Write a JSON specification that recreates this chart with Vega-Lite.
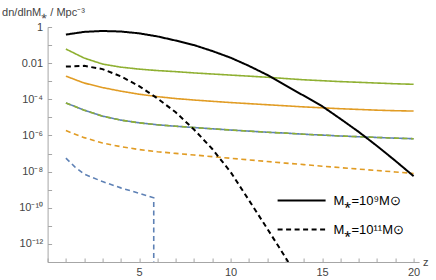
{
  "$schema": "https://vega.github.io/schema/vega-lite/v6.json",
  "width": 371.5,
  "height": 235,
  "autosize": {"type": "none"},
  "padding": {"left": 47.6, "top": 27, "right": 16.9, "bottom": 18},
  "background": "white",
  "config": {
    "view": {"stroke": null},
    "font": "Liberation Sans",
    "axis": {
      "domainColor": "#a6a6a6",
      "tickColor": "#a6a6a6",
      "labelColor": "#444444",
      "titleColor": "#444444",
      "labelFontSize": 11,
      "titleFontSize": 11,
      "titleFontWeight": "normal",
      "grid": false,
      "tickSize": -4
    }
  },
  "data": {"values": [
    {"model":"blue","mass":"M⁎=10⁹M⊙","z":1,"n":6.31e-5},
    {"model":"blue","mass":"M⁎=10⁹M⊙","z":2,"n":2.51e-5},
    {"model":"blue","mass":"M⁎=10⁹M⊙","z":3,"n":1.17e-5},
    {"model":"blue","mass":"M⁎=10⁹M⊙","z":4,"n":7.08e-6},
    {"model":"blue","mass":"M⁎=10⁹M⊙","z":5,"n":5.01e-6},
    {"model":"blue","mass":"M⁎=10⁹M⊙","z":6,"n":3.89e-6},
    {"model":"blue","mass":"M⁎=10⁹M⊙","z":7,"n":3.24e-6},
    {"model":"blue","mass":"M⁎=10⁹M⊙","z":8,"n":2.75e-6},
    {"model":"blue","mass":"M⁎=10⁹M⊙","z":9,"n":2.34e-6},
    {"model":"blue","mass":"M⁎=10⁹M⊙","z":10,"n":2.0e-6},
    {"model":"blue","mass":"M⁎=10⁹M⊙","z":11,"n":1.74e-6},
    {"model":"blue","mass":"M⁎=10⁹M⊙","z":12,"n":1.51e-6},
    {"model":"blue","mass":"M⁎=10⁹M⊙","z":13,"n":1.35e-6},
    {"model":"blue","mass":"M⁎=10⁹M⊙","z":14,"n":1.17e-6},
    {"model":"blue","mass":"M⁎=10⁹M⊙","z":15,"n":1.05e-6},
    {"model":"blue","mass":"M⁎=10⁹M⊙","z":16,"n":9.33e-7},
    {"model":"blue","mass":"M⁎=10⁹M⊙","z":17,"n":8.51e-7},
    {"model":"blue","mass":"M⁎=10⁹M⊙","z":18,"n":7.76e-7},
    {"model":"blue","mass":"M⁎=10⁹M⊙","z":19,"n":7.08e-7},
    {"model":"blue","mass":"M⁎=10⁹M⊙","z":20,"n":6.61e-7},
    {"model":"orange","mass":"M⁎=10⁹M⊙","z":1,"n":1.91e-3},
    {"model":"orange","mass":"M⁎=10⁹M⊙","z":2,"n":7.94e-4},
    {"model":"orange","mass":"M⁎=10⁹M⊙","z":3,"n":4.47e-4},
    {"model":"orange","mass":"M⁎=10⁹M⊙","z":4,"n":2.82e-4},
    {"model":"orange","mass":"M⁎=10⁹M⊙","z":5,"n":1.91e-4},
    {"model":"orange","mass":"M⁎=10⁹M⊙","z":6,"n":1.41e-4},
    {"model":"orange","mass":"M⁎=10⁹M⊙","z":7,"n":1.10e-4},
    {"model":"orange","mass":"M⁎=10⁹M⊙","z":8,"n":9.12e-5},
    {"model":"orange","mass":"M⁎=10⁹M⊙","z":9,"n":7.76e-5},
    {"model":"orange","mass":"M⁎=10⁹M⊙","z":10,"n":6.61e-5},
    {"model":"orange","mass":"M⁎=10⁹M⊙","z":11,"n":5.75e-5},
    {"model":"orange","mass":"M⁎=10⁹M⊙","z":12,"n":5.01e-5},
    {"model":"orange","mass":"M⁎=10⁹M⊙","z":13,"n":4.37e-5},
    {"model":"orange","mass":"M⁎=10⁹M⊙","z":14,"n":3.80e-5},
    {"model":"orange","mass":"M⁎=10⁹M⊙","z":15,"n":3.39e-5},
    {"model":"orange","mass":"M⁎=10⁹M⊙","z":16,"n":3.02e-5},
    {"model":"orange","mass":"M⁎=10⁹M⊙","z":17,"n":2.75e-5},
    {"model":"orange","mass":"M⁎=10⁹M⊙","z":18,"n":2.51e-5},
    {"model":"orange","mass":"M⁎=10⁹M⊙","z":19,"n":2.34e-5},
    {"model":"orange","mass":"M⁎=10⁹M⊙","z":20,"n":2.24e-5},
    {"model":"green","mass":"M⁎=10⁹M⊙","z":1,"n":0.0603},
    {"model":"green","mass":"M⁎=10⁹M⊙","z":2,"n":0.0191},
    {"model":"green","mass":"M⁎=10⁹M⊙","z":3,"n":0.00891},
    {"model":"green","mass":"M⁎=10⁹M⊙","z":4,"n":0.00603},
    {"model":"green","mass":"M⁎=10⁹M⊙","z":5,"n":0.00468},
    {"model":"green","mass":"M⁎=10⁹M⊙","z":6,"n":0.00389},
    {"model":"green","mass":"M⁎=10⁹M⊙","z":7,"n":0.00339},
    {"model":"green","mass":"M⁎=10⁹M⊙","z":8,"n":0.00288},
    {"model":"green","mass":"M⁎=10⁹M⊙","z":9,"n":0.00251},
    {"model":"green","mass":"M⁎=10⁹M⊙","z":10,"n":0.00219},
    {"model":"green","mass":"M⁎=10⁹M⊙","z":11,"n":0.00191},
    {"model":"green","mass":"M⁎=10⁹M⊙","z":12,"n":0.00166},
    {"model":"green","mass":"M⁎=10⁹M⊙","z":13,"n":0.00141},
    {"model":"green","mass":"M⁎=10⁹M⊙","z":14,"n":0.00120},
    {"model":"green","mass":"M⁎=10⁹M⊙","z":15,"n":0.00107},
    {"model":"green","mass":"M⁎=10⁹M⊙","z":16,"n":9.55e-4},
    {"model":"green","mass":"M⁎=10⁹M⊙","z":17,"n":8.71e-4},
    {"model":"green","mass":"M⁎=10⁹M⊙","z":18,"n":7.94e-4},
    {"model":"green","mass":"M⁎=10⁹M⊙","z":19,"n":7.24e-4},
    {"model":"green","mass":"M⁎=10⁹M⊙","z":20,"n":6.76e-4},
    {"model":"blue","mass":"M⁎=10¹¹M⊙","z":1,"n":5.62e-8},
    {"model":"blue","mass":"M⁎=10¹¹M⊙","z":1.5,"n":1.78e-8},
    {"model":"blue","mass":"M⁎=10¹¹M⊙","z":2,"n":7.24e-9},
    {"model":"blue","mass":"M⁎=10¹¹M⊙","z":3,"n":2.82e-9},
    {"model":"blue","mass":"M⁎=10¹¹M⊙","z":4,"n":1.26e-9},
    {"model":"blue","mass":"M⁎=10¹¹M⊙","z":5,"n":6.31e-10},
    {"model":"blue","mass":"M⁎=10¹¹M⊙","z":5.8,"n":3.55e-10},
    {"model":"blue","mass":"M⁎=10¹¹M⊙","z":5.8,"n":1e-13},
    {"model":"orange","mass":"M⁎=10¹¹M⊙","z":1,"n":1.86e-6},
    {"model":"orange","mass":"M⁎=10¹¹M⊙","z":2,"n":7.59e-7},
    {"model":"orange","mass":"M⁎=10¹¹M⊙","z":3,"n":3.80e-7},
    {"model":"orange","mass":"M⁎=10¹¹M⊙","z":4,"n":2.40e-7},
    {"model":"orange","mass":"M⁎=10¹¹M⊙","z":5,"n":1.66e-7},
    {"model":"orange","mass":"M⁎=10¹¹M⊙","z":6,"n":1.26e-7},
    {"model":"orange","mass":"M⁎=10¹¹M⊙","z":7,"n":1.02e-7},
    {"model":"orange","mass":"M⁎=10¹¹M⊙","z":8,"n":8.32e-8},
    {"model":"orange","mass":"M⁎=10¹¹M⊙","z":9,"n":6.76e-8},
    {"model":"orange","mass":"M⁎=10¹¹M⊙","z":10,"n":5.50e-8},
    {"model":"orange","mass":"M⁎=10¹¹M⊙","z":11,"n":4.47e-8},
    {"model":"orange","mass":"M⁎=10¹¹M⊙","z":12,"n":3.63e-8},
    {"model":"orange","mass":"M⁎=10¹¹M⊙","z":13,"n":2.95e-8},
    {"model":"orange","mass":"M⁎=10¹¹M⊙","z":14,"n":2.45e-8},
    {"model":"orange","mass":"M⁎=10¹¹M⊙","z":15,"n":2.0e-8},
    {"model":"orange","mass":"M⁎=10¹¹M⊙","z":16,"n":1.66e-8},
    {"model":"orange","mass":"M⁎=10¹¹M⊙","z":17,"n":1.38e-8},
    {"model":"orange","mass":"M⁎=10¹¹M⊙","z":18,"n":1.15e-8},
    {"model":"orange","mass":"M⁎=10¹¹M⊙","z":19,"n":9.55e-9},
    {"model":"orange","mass":"M⁎=10¹¹M⊙","z":20,"n":7.94e-9},
    {"model":"green","mass":"M⁎=10¹¹M⊙","z":1,"n":6.31e-5},
    {"model":"green","mass":"M⁎=10¹¹M⊙","z":2,"n":2.51e-5},
    {"model":"green","mass":"M⁎=10¹¹M⊙","z":3,"n":1.17e-5},
    {"model":"green","mass":"M⁎=10¹¹M⊙","z":4,"n":7.08e-6},
    {"model":"green","mass":"M⁎=10¹¹M⊙","z":5,"n":5.01e-6},
    {"model":"green","mass":"M⁎=10¹¹M⊙","z":6,"n":3.89e-6},
    {"model":"green","mass":"M⁎=10¹¹M⊙","z":7,"n":3.24e-6},
    {"model":"green","mass":"M⁎=10¹¹M⊙","z":8,"n":2.75e-6},
    {"model":"green","mass":"M⁎=10¹¹M⊙","z":9,"n":2.34e-6},
    {"model":"green","mass":"M⁎=10¹¹M⊙","z":10,"n":2.0e-6},
    {"model":"green","mass":"M⁎=10¹¹M⊙","z":11,"n":1.74e-6},
    {"model":"green","mass":"M⁎=10¹¹M⊙","z":12,"n":1.51e-6},
    {"model":"green","mass":"M⁎=10¹¹M⊙","z":13,"n":1.35e-6},
    {"model":"green","mass":"M⁎=10¹¹M⊙","z":14,"n":1.17e-6},
    {"model":"green","mass":"M⁎=10¹¹M⊙","z":15,"n":1.05e-6},
    {"model":"green","mass":"M⁎=10¹¹M⊙","z":16,"n":9.33e-7},
    {"model":"green","mass":"M⁎=10¹¹M⊙","z":17,"n":8.51e-7},
    {"model":"green","mass":"M⁎=10¹¹M⊙","z":18,"n":7.76e-7},
    {"model":"green","mass":"M⁎=10¹¹M⊙","z":19,"n":7.08e-7},
    {"model":"green","mass":"M⁎=10¹¹M⊙","z":20,"n":6.61e-7},
    {"model":"black","mass":"M⁎=10⁹M⊙","z":1,"n":0.380},
    {"model":"black","mass":"M⁎=10⁹M⊙","z":2,"n":0.537},
    {"model":"black","mass":"M⁎=10⁹M⊙","z":3,"n":0.603},
    {"model":"black","mass":"M⁎=10⁹M⊙","z":4,"n":0.562},
    {"model":"black","mass":"M⁎=10⁹M⊙","z":5,"n":0.447},
    {"model":"black","mass":"M⁎=10⁹M⊙","z":6,"n":0.302},
    {"model":"black","mass":"M⁎=10⁹M⊙","z":7,"n":0.178},
    {"model":"black","mass":"M⁎=10⁹M⊙","z":8,"n":0.1},
    {"model":"black","mass":"M⁎=10⁹M⊙","z":9,"n":0.0468},
    {"model":"black","mass":"M⁎=10⁹M⊙","z":10,"n":0.0200},
    {"model":"black","mass":"M⁎=10⁹M⊙","z":11,"n":0.00708},
    {"model":"black","mass":"M⁎=10⁹M⊙","z":12,"n":0.00224},
    {"model":"black","mass":"M⁎=10⁹M⊙","z":13,"n":5.89e-4},
    {"model":"black","mass":"M⁎=10⁹M⊙","z":14,"n":1.58e-4},
    {"model":"black","mass":"M⁎=10⁹M⊙","z":15,"n":4.17e-5},
    {"model":"black","mass":"M⁎=10⁹M⊙","z":16,"n":8.32e-6},
    {"model":"black","mass":"M⁎=10⁹M⊙","z":17,"n":1.58e-6},
    {"model":"black","mass":"M⁎=10⁹M⊙","z":18,"n":2.63e-7},
    {"model":"black","mass":"M⁎=10⁹M⊙","z":19,"n":3.98e-8},
    {"model":"black","mass":"M⁎=10⁹M⊙","z":20,"n":5.62e-9},
    {"model":"black","mass":"M⁎=10¹¹M⊙","z":1,"n":0.00646},
    {"model":"black","mass":"M⁎=10¹¹M⊙","z":2,"n":0.00708},
    {"model":"black","mass":"M⁎=10¹¹M⊙","z":3,"n":0.00468},
    {"model":"black","mass":"M⁎=10¹¹M⊙","z":4,"n":0.00186},
    {"model":"black","mass":"M⁎=10¹¹M⊙","z":5,"n":5.37e-4},
    {"model":"black","mass":"M⁎=10¹¹M⊙","z":6,"n":1.12e-4},
    {"model":"black","mass":"M⁎=10¹¹M⊙","z":7,"n":1.91e-5},
    {"model":"black","mass":"M⁎=10¹¹M⊙","z":8,"n":2.14e-6},
    {"model":"black","mass":"M⁎=10¹¹M⊙","z":9,"n":1.78e-7},
    {"model":"black","mass":"M⁎=10¹¹M⊙","z":10,"n":9.55e-9},
    {"model":"black","mass":"M⁎=10¹¹M⊙","z":11,"n":2.63e-10},
    {"model":"black","mass":"M⁎=10¹¹M⊙","z":12,"n":7.08e-12},
    {"model":"black","mass":"M⁎=10¹¹M⊙","z":13,"n":1.78e-13},
    {"model":"black","mass":"M⁎=10¹¹M⊙","z":13.15,"n":1e-13}
  ]},
  "encoding": {
    "x": {
      "field": "z", "type": "quantitative",
      "scale": {"domain": [0, 20.3], "nice": false, "zero": false},
      "axis": {
        "values": [0,1,2,3,4,5,6,7,8,9,10,11,12,13,14,15,16,17,18,19,20],
        "labelExpr": "datum.value % 5 == 0 && datum.value > 0 ? '' + datum.value : ''",
        "labelPadding": 8,
        "title": "z",
        "titleAngle": 0,
        "titleAlign": "left",
        "titleBaseline": "middle",
        "titleX": 375,
        "titleY": 0
      }
    },
    "y": {
      "field": "n", "type": "quantitative",
      "scale": {"type": "log", "domain": [1e-13, 1], "nice": false},
      "axis": {
        "values": [1,0.1,0.01,0.001,1e-4,1e-5,1e-6,1e-7,1e-8,1e-9,1e-10,1e-11,1e-12,1e-13],
        "labelExpr": "round(log(datum.value)/LN10) == 0 ? '1' : round(log(datum.value)/LN10) == -2 ? '0.01' : round(log(datum.value)/LN10) == -4 ? '10⁻⁴' : round(log(datum.value)/LN10) == -6 ? '10⁻⁶' : round(log(datum.value)/LN10) == -8 ? '10⁻⁸' : round(log(datum.value)/LN10) == -10 ? '10⁻¹⁰' : round(log(datum.value)/LN10) == -12 ? '10⁻¹²' : ''",
        "labelPadding": 9,
        "title": "dn/dlnM⁎ / Mpc⁻³",
        "titleAngle": 0,
        "titleAlign": "left",
        "titleBaseline": "middle",
        "titleX": -46,
        "titleY": -15
      }
    },
    "color": {
      "field": "model", "type": "nominal",
      "scale": {"domain": ["black","blue","orange","green"], "range": ["#000000","#5E81B5","#E19C24","#8FB032"]},
      "legend": null
    },
    "strokeDash": {
      "field": "mass", "type": "nominal",
      "scale": {"domain": ["M⁎=10⁹M⊙","M⁎=10¹¹M⊙"], "range": [[1,0],[5,3.5]]},
      "legend": {
        "title": null,
        "orient": "none",
        "legendX": 229,
        "legendY": 159,
        "symbolType": "stroke",
        "symbolSize": 2304,
        "symbolStrokeWidth": 2,
        "symbolStrokeColor": "black",
        "clipHeight": 29,
        "rowPadding": 0,
        "labelOffset": 7,
        "labelFontSize": 13,
        "labelColor": "black",
        "padding": 0
      }
    }
  },
  "layer": [
    {
      "transform": [{"filter": "datum.model != 'black'"}],
      "mark": {"type": "line", "strokeWidth": 1.6, "clip": true}
    },
    {
      "transform": [{"filter": "datum.model == 'black'"}],
      "mark": {"type": "line", "strokeWidth": 2, "clip": true}
    }
  ]
}
